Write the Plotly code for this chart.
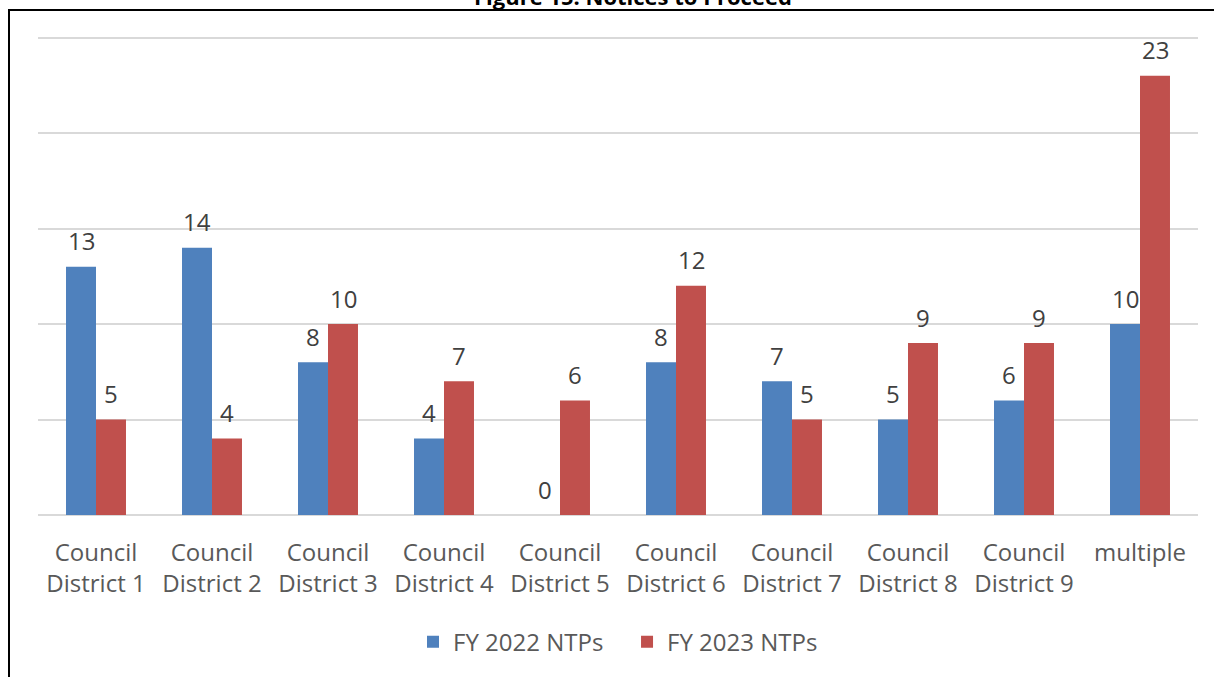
import plotly.graph_objects as go

CATEGORIES = [
    "Council<br>District 1", "Council<br>District 2", "Council<br>District 3",
    "Council<br>District 4", "Council<br>District 5", "Council<br>District 6",
    "Council<br>District 7", "Council<br>District 8", "Council<br>District 9",
    "multiple",
]
FY2022 = [13, 14, 8, 4, 0, 8, 7, 5, 6, 10]
FY2023 = [5, 4, 10, 7, 6, 12, 5, 9, 9, 23]

FONT = "Open Sans"
TEXT_COLOR = "#595959"
LABEL_COLOR = "#404040"
NBSP = "\u00a0"

fig = go.Figure()
fig.add_trace(go.Bar(
    x=CATEGORIES, y=FY2022, name="FY 2022 NTPs" + NBSP * 3,
    marker={"color": "#4F81BD", "line": {"width": 0}},
))
fig.add_trace(go.Bar(
    x=CATEGORIES, y=FY2023, name="FY 2023 NTPs",
    marker={"color": "#C0504D", "line": {"width": 0}},
))

# value labels sit a fixed distance above each bar
for values, dx in [(FY2022, -15), (FY2023, 15)]:
    for cat, v in zip(CATEGORIES, values):
        fig.add_annotation(x=cat, y=v, text=str(v), showarrow=False,
                           xshift=dx, yshift=26, yanchor="middle",
                           font={"size": 24, "color": LABEL_COLOR, "family": FONT})

# outer frame (left and top edges visible, rest runs off the page)
fig.add_shape(type="rect", xref="paper", yref="paper",
              x0=-0.025, x1=1.03, y0=-0.4, y1=1.0368,
              line={"color": "black", "width": 2}, layer="below")

fig.add_annotation(text="<b>Figure 15: Notices to Proceed</b>",
                   xref="paper", yref="paper", x=0.513, y=1.0315,
                   xanchor="center", yanchor="bottom", showarrow=False,
                   font={"size": 22, "color": "black", "family": FONT})

fig.update_layout(
    width=1214, height=677,
    margin={"l": 38, "r": 16, "t": 28, "b": 160},
    paper_bgcolor="white", plot_bgcolor="white",
    barmode="group", bargap=0.483, bargroupgap=0,
    font={"family": FONT, "color": TEXT_COLOR, "size": 24},
    xaxis={"tickfont": {"size": 24, "color": TEXT_COLOR}, "ticks": "",
           "showline": False, "showgrid": False, "ticklabelstandoff": 21},
    yaxis={"range": [0, 25.5], "tickvals": [0, 5, 10, 15, 20, 25],
           "showticklabels": False,
           "showgrid": True, "gridcolor": "#D9D9D9", "gridwidth": 2,
           "zeroline": True, "zerolinecolor": "#D9D9D9", "zerolinewidth": 2},
    legend={"orientation": "h", "x": 0.5, "xanchor": "center",
            "y": -0.215, "yanchor": "top",
            "font": {"size": 24, "color": TEXT_COLOR},
            "traceorder": "normal"},
    showlegend=True,
)

fig.write_html("out.html", config={"displayModeBar": False},
               post_script="document.body.style.margin='0';")
